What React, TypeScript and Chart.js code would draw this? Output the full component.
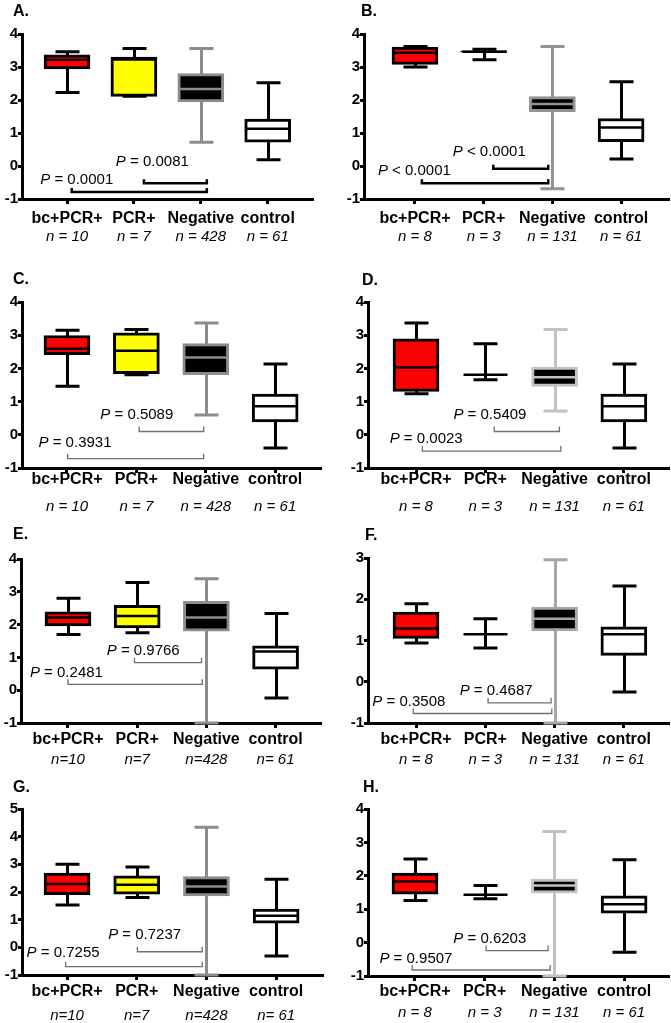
import React, { useEffect, useRef } from "react";
import { Chart, registerables } from "chart.js";

Chart.register(...registerables);

const FONT = "'Liberation Sans', Arial, Helvetica, sans-serif";
Chart.defaults.font.family = FONT;

// ---------- data ----------
const categories = ["bc+PCR+", "PCR+", "Negative", "control"];
const nLabels1 = ["n = 10", "n = 7", "n = 428", "n = 61"];
const nLabels2 = ["n = 8", "n = 3", "n = 131", "n = 61"];
const nLabels3 = ["n=10", "n=7", "n=428", "n= 61"];

// each row: [min, q1, median, q3, max]
const statsA = [[2.23, 2.94, 3.22, 3.37, 3.46], [2.11, 2.11, 3.23, 3.30, 3.56], [0.72, 1.94, 2.33, 2.80, 3.56], [0.19, 0.72, 1.13, 1.42, 2.52]];
const statsB = [[3.00, 3.08, 3.43, 3.60, 3.62], [3.22, 3.45, 3.46, 3.49, 3.54], [-0.69, 1.65, 1.88, 2.10, 3.62], [0.21, 0.74, 1.17, 1.44, 2.55]];
const statsC = [[1.46, 2.41, 2.59, 2.99, 3.15], [1.81, 1.84, 2.53, 3.07, 3.17], [0.60, 1.81, 2.33, 2.75, 3.37], [-0.40, 0.39, 0.86, 1.23, 2.13]];
const statsD = [[1.24, 1.31, 2.03, 2.89, 3.37], [1.66, 1.81, 1.81, 1.81, 2.74], [0.72, 1.46, 1.73, 2.04, 3.17], [-0.40, 0.39, 0.86, 1.23, 2.13]];
const statsE = [[1.70, 1.96, 2.22, 2.39, 2.80], [1.75, 1.90, 2.26, 2.59, 3.28], [-1.0, 1.80, 2.22, 2.71, 3.40], [-0.24, 0.64, 1.18, 1.35, 2.34]];
const statsF = [[0.94, 1.05, 1.29, 1.69, 1.89], [0.82, 1.15, 1.15, 1.15, 1.53], [-1.0, 1.23, 1.53, 1.81, 2.96], [-0.25, 0.64, 1.15, 1.33, 2.32]];
const statsG = [[1.53, 1.90, 2.29, 2.68, 3.00], [1.80, 1.92, 2.26, 2.58, 2.90], [-1.0, 1.86, 2.20, 2.56, 4.34], [-0.31, 0.87, 1.14, 1.38, 2.46]];
const statsH = [[1.26, 1.45, 1.83, 2.08, 2.50], [1.31, 1.43, 1.43, 1.43, 1.71], [-1.0, 1.48, 1.71, 1.90, 3.33], [-0.29, 0.88, 1.15, 1.40, 2.48]];

// comparison brackets: from/to in category units, y in value units; text anchor (tx, ty)
const bracketsA = [{ from: 1.15, to: 2.09, y: -0.52, text: "= 0.0081", tx: 0.73, ty: 0.12 }, { from: 0.07, to: 2.09, y: -0.79, text: "= 0.0001", tx: -0.40, ty: -0.41 }];
const bracketsB = [{ from: 1.14, to: 1.94, y: -0.08, text: "< 0.0001", tx: 0.55, ty: 0.44 }, { from: 0.10, to: 1.94, y: -0.52, text: "< 0.0001", tx: -0.54, ty: -0.14 }];
const bracketsC = [{ from: 1.04, to: 1.97, y: 0.10, text: "= 0.5089", tx: 0.48, ty: 0.59 }, { from: 0.01, to: 1.97, y: -0.72, text: "= 0.3931", tx: -0.41, ty: -0.23 }];
const bracketsD = [{ from: 1.13, to: 2.07, y: 0.10, text: "= 0.5409", tx: 0.54, ty: 0.59 }, { from: 0.09, to: 2.09, y: -0.49, text: "= 0.0023", tx: -0.38, ty: -0.13 }];
const bracketsE = [{ from: 0.96, to: 1.93, y: 0.84, text: "= 0.9766", tx: 0.56, ty: 1.21 }, { from: 0.0, to: 1.94, y: 0.18, text: "= 0.2481", tx: -0.55, ty: 0.54 }];
const bracketsF = [{ from: 1.04, to: 1.95, y: -0.51, text: "= 0.4687", tx: 0.63, ty: -0.22 }, { from: -0.04, to: 1.96, y: -0.77, text: "= 0.3508", tx: -0.63, ty: -0.49 }];
const bracketsG = [{ from: 1.01, to: 1.94, y: -0.16, text: "= 0.7237", tx: 0.59, ty: 0.45 }, { from: -0.02, to: 1.94, y: -0.70, text: "= 0.7255", tx: -0.58, ty: -0.19 }];
const bracketsH = [{ from: 1.02, to: 1.91, y: -0.24, text: "= 0.6203", tx: 0.55, ty: 0.11 }, { from: -0.04, to: 1.94, y: -0.82, text: "= 0.9507", tx: -0.51, ty: -0.50 }];

// ---------- layout & style ----------
const black = { color: "#000", width: 2.5, tick: 4 };
const grey = { color: "#707070", width: 1.3, tick: 5 };

const panels = [
  { title: "A.", stats: statsA, n: nLabels1, brackets: bracketsA, yMax: 4, neg: "#8c8c8c", br: black,
    L: { left: 0, top: 0, width: 335, height: 250, titleX: 13, titleY: 12, cl: 22, cr: 312, ct: 34, cb: 199, catY: 218.5, nY: 236.5, xMin: -0.673, xMax: 3.662 } },
  { title: "B.", stats: statsB, n: nLabels2, brackets: bracketsB, yMax: 4, neg: "#929292", br: black,
    L: { left: 335, top: 0, width: 336, height: 250, titleX: 361, titleY: 12, cl: 364, cr: 668, ct: 34, cb: 199, catY: 218.5, nY: 236.5, xMin: -0.742, xMax: 3.683 } },
  { title: "C.", stats: statsC, n: nLabels1, brackets: bracketsC, yMax: 4, neg: "#8c8c8c", br: grey,
    L: { left: 0, top: 250, width: 335, height: 268, titleX: 13, titleY: 280, cl: 22, cr: 320, ct: 302, cb: 468, catY: 479.5, nY: 507, xMin: -0.648, xMax: 3.646 } },
  { title: "D.", stats: statsD, n: nLabels2, brackets: bracketsD, yMax: 4, neg: "#c2c2c2", br: grey,
    L: { left: 335, top: 250, width: 336, height: 268, titleX: 362, titleY: 281, cl: 368, cr: 668, ct: 302, cb: 468, catY: 479.5, nY: 507, xMin: -0.693, xMax: 3.637 } },
  { title: "E.", stats: statsE, n: nLabels3, brackets: bracketsE, yMax: 4, neg: "#8c8c8c", br: grey,
    L: { left: 0, top: 518, width: 335, height: 252, titleX: 13, titleY: 535, cl: 21, cr: 320, ct: 559, cb: 723, catY: 739.5, nY: 760, xMin: -0.679, xMax: 3.642 } },
  { title: "F.", stats: statsF, n: nLabels2, brackets: bracketsF, yMax: 3, neg: "#a6a6a6", br: grey,
    L: { left: 335, top: 518, width: 336, height: 252, titleX: 365, titleY: 536, cl: 368, cr: 668, ct: 558, cb: 723, catY: 739.5, nY: 760, xMin: -0.693, xMax: 3.637 } },
  { title: "G.", stats: statsG, n: nLabels3, brackets: bracketsG, yMax: 5, neg: "#8c8c8c", br: grey,
    L: { left: 0, top: 770, width: 335, height: 253, titleX: 13, titleY: 788, cl: 22, cr: 322, ct: 809, cb: 975, catY: 992, nY: 1016, xMin: -0.646, xMax: 3.658 } },
  { title: "H.", stats: statsH, n: nLabels2, brackets: bracketsH, yMax: 4, neg: "#c2c2c2", br: grey,
    L: { left: 335, top: 770, width: 336, height: 253, titleX: 363, titleY: 788, cl: 368, cr: 668, ct: 809, cb: 976, catY: 991.5, nY: 1013, xMin: -0.674, xMax: 3.63 } },
];

const fills = ["#ff0000", "#ffff00", "#000000", "#ffffff"];
const BOX_W = 46;
const CAP_W = 24;

function makePlugin(p: any) {
  return {
    id: "boxplot" + p.title.replace(".", ""),
    beforeDatasetsDraw(chart: any) {
      const { ctx } = chart;
      const xs = chart.scales.x, ys = chart.scales.y;
      p.stats.forEach((s: number[], i: number) => {
        const x = Math.round(xs.getPixelForValue(i)) + 0.5;
        const yMin = ys.getPixelForValue(s[0]);
        const yMax = ys.getPixelForValue(s[4]);
        ctx.save();
        ctx.strokeStyle = i === 2 ? p.neg : "#000";
        ctx.lineWidth = 3;
        ctx.beginPath();
        ctx.moveTo(x, yMin);
        ctx.lineTo(x, yMax);
        ctx.moveTo(x - CAP_W / 2, yMin);
        ctx.lineTo(x + CAP_W / 2, yMin);
        ctx.moveTo(x - CAP_W / 2, yMax);
        ctx.lineTo(x + CAP_W / 2, yMax);
        ctx.stroke();
        ctx.restore();
      });
    },
    afterDatasetsDraw(chart: any) {
      const { ctx } = chart;
      const xs = chart.scales.x, ys = chart.scales.y;
      p.stats.forEach((s: number[], i: number) => {
        const x = Math.round(xs.getPixelForValue(i)) + 0.5;
        const y = ys.getPixelForValue(s[2]);
        ctx.save();
        ctx.strokeStyle = i === 2 ? p.neg : "#000";
        ctx.lineWidth = 2.5;
        ctx.beginPath();
        ctx.moveTo(x - BOX_W / 2 + 1, y);
        ctx.lineTo(x + BOX_W / 2 - 1, y);
        ctx.stroke();
        ctx.restore();
      });
    },
    afterDraw(chart: any) {
      const { ctx } = chart;
      const xs = chart.scales.x, ys = chart.scales.y;
      // panel letter
      ctx.save();
      ctx.fillStyle = "#000";
      ctx.textBaseline = "middle";
      ctx.textAlign = "left";
      ctx.font = `bold 16px ${FONT}`;
      ctx.fillText(p.title, p.L.titleX - p.L.left, p.L.titleY - p.L.top);
      ctx.restore();
      p.brackets.forEach((b: any) => {
        const x1 = xs.getPixelForValue(b.from);
        const x2 = xs.getPixelForValue(b.to);
        const y = ys.getPixelForValue(b.y);
        ctx.save();
        ctx.strokeStyle = p.br.color;
        ctx.lineWidth = p.br.width;
        ctx.beginPath();
        ctx.moveTo(x1, y - p.br.tick);
        ctx.lineTo(x1, y);
        ctx.lineTo(x2, y);
        ctx.lineTo(x2, y - p.br.tick);
        ctx.stroke();
        const tx = xs.getPixelForValue(b.tx);
        const ty = ys.getPixelForValue(b.ty);
        ctx.fillStyle = "#000";
        ctx.textBaseline = "middle";
        ctx.textAlign = "left";
        ctx.font = `italic 15px ${FONT}`;
        ctx.fillText("P", tx, ty);
        const w = ctx.measureText("P").width;
        ctx.font = `15px ${FONT}`;
        ctx.fillText(" " + b.text, tx + w, ty);
        ctx.restore();
      });
    },
  };
}

function Panel({ p }: { p: any }) {
  const ref = useRef<HTMLCanvasElement>(null);
  const L = p.L;
  useEffect(() => {
    if (!ref.current) return;
    const h1 = L.nY - L.cb - 9;
    const h2 = L.top + L.height - L.cb - h1;
    const xTickLen = 5;
    const catPad = L.catY - L.cb - xTickLen - 9.6;
    const setTicks = (s: any) => {
      s.ticks = categories.map((_, i) => ({ value: i }));
    };
    const chart = new Chart(ref.current, {
      type: "bar",
      data: {
        datasets: [
          {
            data: p.stats.map((s: number[], i: number) => ({ x: i, y: [s[1], s[3]] })),
            backgroundColor: fills,
            borderColor: ["#000", "#000", p.neg, "#000"],
            borderWidth: 3,
            borderSkipped: false,
            barThickness: BOX_W,
            xAxisID: "x",
            yAxisID: "y",
          } as any,
        ],
      },
      options: {
        responsive: false,
        animation: false,
        events: [],
        layout: { padding: { left: 0, right: L.left + L.width - L.cr, top: L.ct - L.top, bottom: 0 } },
        plugins: {
          legend: { display: false },
          tooltip: { enabled: false },
          title: { display: false },
        },
        scales: {
          x: {
            type: "linear",
            position: "bottom",
            min: L.xMin,
            max: L.xMax,
            bounds: "data",
            offset: false,
            weight: 1,
            afterBuildTicks: setTicks,
            afterFit: (s: any) => { s.height = h1; },
            grid: { display: true, drawOnChartArea: false, drawTicks: true, tickLength: xTickLen, lineWidth: 3, color: "#000", offset: false },
            border: { display: true, width: 3, color: "#000" },
            ticks: {
              autoSkip: false, maxRotation: 0, minRotation: 0, padding: catPad, color: "#000",
              font: { family: FONT, size: 16, weight: "bold" },
              callback: (_v: any, i: number) => categories[i],
            },
          },
          x2: {
            type: "linear",
            position: "bottom",
            min: L.xMin,
            max: L.xMax,
            bounds: "data",
            offset: false,
            weight: 2,
            afterBuildTicks: setTicks,
            afterFit: (s: any) => { s.height = h2; },
            grid: { display: false, drawTicks: false, offset: false },
            border: { display: false },
            ticks: {
              autoSkip: false, maxRotation: 0, minRotation: 0, padding: 0, color: "#000",
              font: { family: FONT, size: 15, style: "italic" },
              callback: (_v: any, i: number) => p.n[i],
            },
          },
          y: {
            type: "linear",
            position: "left",
            min: -1,
            max: p.yMax,
            afterFit: (s: any) => { s.width = L.cl - L.left; },
            grid: { drawOnChartArea: false, drawTicks: true, tickLength: 4, lineWidth: 3, color: "#000" },
            border: { display: true, width: 3, color: "#000" },
            ticks: { stepSize: 1, padding: 0, color: "#000", font: { family: FONT, size: 15, weight: "bold" } },
          },
        },
      } as any,
      plugins: [makePlugin(p)],
    });
    return () => chart.destroy();
  }, [p]);
  return (
    <canvas
      ref={ref}
      width={L.width}
      height={L.height}
      style={{ position: "absolute", left: L.left, top: L.top, width: L.width, height: L.height }}
    />
  );
}

export default function App() {
  return (
    <div style={{ position: "absolute", left: 0, top: 0, width: 671, height: 1023, background: "#fff", overflow: "hidden" }}>
      {panels.map((p) => (
        <Panel key={p.title} p={p} />
      ))}
    </div>
  );
}
